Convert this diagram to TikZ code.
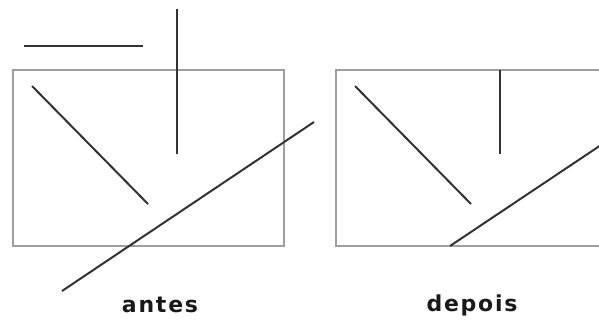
\documentclass[tikz,border=0pt]{standalone}
\usepackage{fontspec}
\newfontfamily\labelfont[LetterSpace=8]{DejaVu Sans}
\usetikzlibrary{positioning}

\begin{document}
\begin{tikzpicture}[
    x=1pt, y=-1pt,
    box/.style={draw=gray!75, line width=1.6pt},
    segment/.style={draw=black!80, line width=2pt},
    caption/.style={font=\labelfont\bfseries\fontsize{22}{22}\selectfont, text=black!90, inner sep=0pt}
]

\useasboundingbox (0,0) rectangle (599,322);
\clip (0,0) rectangle (599,322);

% ==========================================
% LEFT: BEFORE CLIPPING
% ==========================================

\draw[box] (13,70) rectangle (284,246);

\draw[segment] (24,46) -- (143,46);
\draw[segment] (177,9) -- (177,154);
\draw[segment] (32,86) -- (148,204);
\draw[segment] (62,291) -- (314,122);

\node[caption] (Antes) at (160,305) {antes};

% ==========================================
% RIGHT: AFTER CLIPPING
% ==========================================

\draw[box] (336,70) rectangle (607,246);

\draw[segment] (355,86) -- (471,204);
\draw[segment] (500,70) -- (500,154);
\draw[segment] (450,246) -- (607,141);

\node[caption] (Depois) at (472,305) {depois};

\end{tikzpicture}
\end{document}
